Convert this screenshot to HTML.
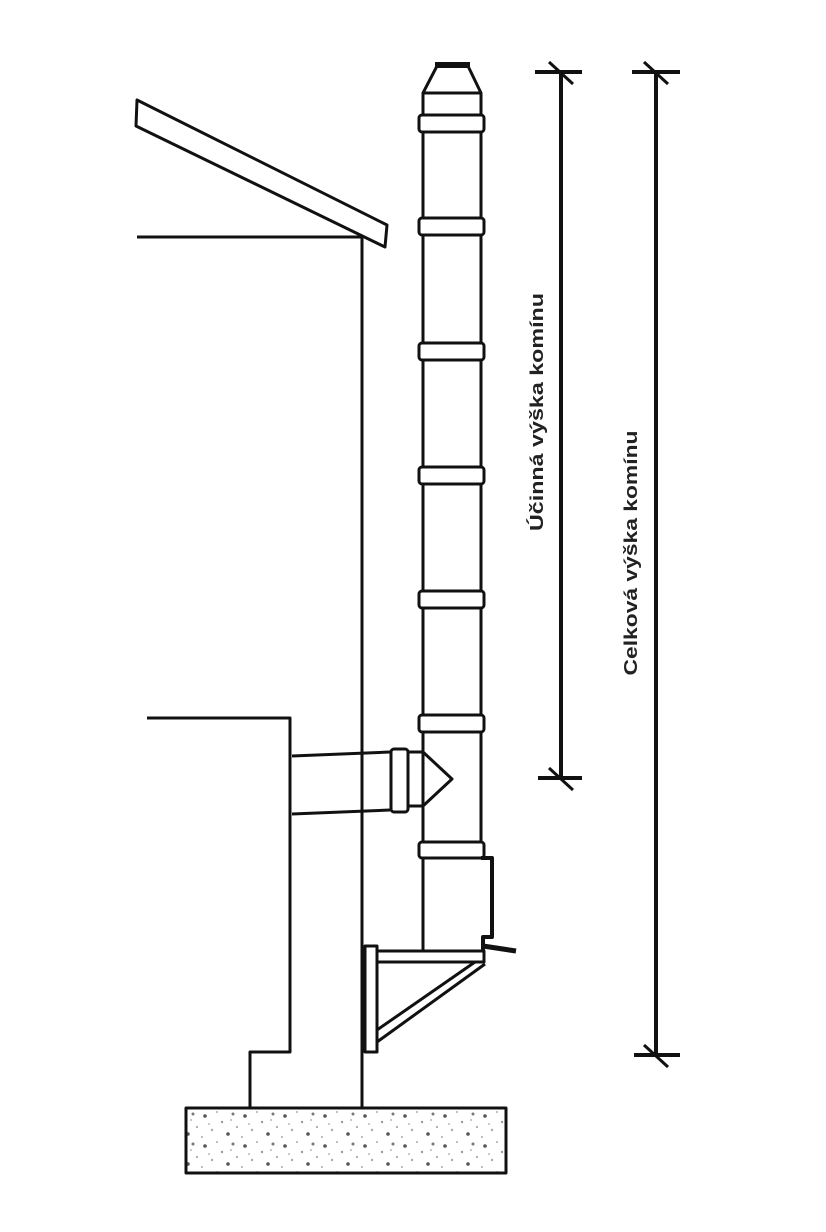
<!DOCTYPE html>
<html><head><meta charset="utf-8"><style>html,body{margin:0;padding:0;background:#fff}svg{display:block}</style></head>
<body>
<svg width="826" height="1232" viewBox="0 0 826 1232" xmlns="http://www.w3.org/2000/svg">
<defs>
<pattern id="dots" width="40" height="30" patternUnits="userSpaceOnUse">
<circle cx="5" cy="6" r="1.8" fill="#555"/><circle cx="22" cy="12" r="1.2" fill="#999"/><circle cx="33" cy="4" r="1.5" fill="#777"/>
<circle cx="12" cy="20" r="1.2" fill="#aaa"/><circle cx="28" cy="24" r="1.8" fill="#555"/><circle cx="37" cy="17" r="1" fill="#999"/>
<circle cx="2" cy="27" r="1" fill="#aaa"/><circle cx="17" cy="2" r="1" fill="#aaa"/>
<circle cx="9" cy="14" r="1" fill="#bbb"/><circle cx="31" cy="10" r="1" fill="#bbb"/>
</pattern>
</defs>
<g fill="none" stroke="#111" stroke-width="3" stroke-linejoin="round">
<polygon points="137,100 136,126 385,247 387,225"/>
<line x1="137" y1="237" x2="362" y2="237"/>
<line x1="362" y1="237" x2="362" y2="1108"/>
<polyline points="147,718 290,718 290,1052 250,1052 250,1108"/>
<rect x="186" y="1108" width="320" height="65" fill="url(#dots)"/>
<line x1="423" y1="93" x2="423" y2="951"/>
<line x1="481" y1="93" x2="481" y2="858"/>
<polygon points="437,66 468,66 481,93 423,93" fill="#fff"/>
<rect x="435" y="62" width="35" height="6" fill="#111" stroke="none"/>
<g fill="#fff">
<rect x="419" y="115" width="65" height="17" rx="3"/>
<rect x="419" y="218" width="65" height="17" rx="3"/>
<rect x="419" y="343" width="65" height="17" rx="3"/>
<rect x="419" y="467" width="65" height="17" rx="3"/>
<rect x="419" y="591" width="65" height="17" rx="3"/>
<rect x="419" y="715" width="65" height="17" rx="3"/>
<rect x="419" y="842" width="65" height="16" rx="3"/>
</g>
<polyline points="481,858 492,858 492,937 483,937 483,951" stroke-width="4"/>
<line x1="483" y1="946" x2="516" y2="951" stroke-width="5"/>
<line x1="292" y1="756" x2="390" y2="752"/>
<line x1="292" y1="814" x2="390" y2="810"/>
<rect x="391" y="749" width="17" height="63" rx="3" fill="#fff"/>
<polyline points="408,752 423,752 452,779 423,806 408,806"/>
<rect x="365" y="946" width="12" height="106" fill="#fff"/>
<rect x="377" y="951" width="107" height="11" fill="#fff"/>
<line x1="377" y1="1030" x2="475" y2="962"/>
<line x1="377" y1="1042" x2="485" y2="964"/>
</g>
<g stroke="#111" stroke-width="4">
<line x1="561" y1="72" x2="561" y2="778"/>
<line x1="535" y1="72" x2="582" y2="72"/>
<line x1="549" y1="62" x2="573" y2="84" stroke-width="3"/>
<line x1="538" y1="778" x2="582" y2="778"/>
<line x1="549" y1="768" x2="573" y2="790" stroke-width="3"/>
<line x1="656" y1="72" x2="656" y2="1055"/>
<line x1="632" y1="72" x2="680" y2="72"/>
<line x1="644" y1="62" x2="668" y2="84" stroke-width="3"/>
<line x1="634" y1="1055" x2="680" y2="1055"/>
<line x1="644" y1="1045" x2="668" y2="1067" stroke-width="3"/>
</g>
<g font-family="Liberation Sans, sans-serif" font-weight="bold" font-size="18" fill="#222" text-anchor="middle">
<text transform="translate(543,412) rotate(-90)" textLength="238" lengthAdjust="spacingAndGlyphs">Účinná výška komínu</text>
<text transform="translate(637,553) rotate(-90)" textLength="245" lengthAdjust="spacingAndGlyphs">Celková výška komínu</text>
</g>
</svg>
</body></html>
